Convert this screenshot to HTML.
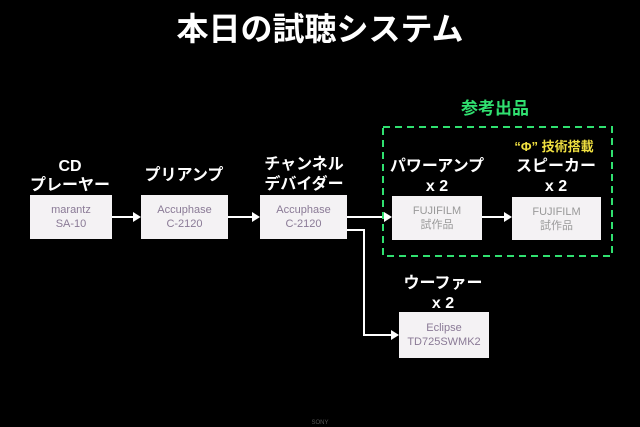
<!DOCTYPE html>
<html><head><meta charset="utf-8"><style>
body{margin:0;width:640px;height:427px;background:#000;overflow:hidden;position:relative;font-family:"Liberation Sans","Noto Sans CJK JP",sans-serif;}
.t{position:absolute;color:#fff;font-weight:bold;text-align:center;white-space:nowrap;}
.b{position:absolute;background:#f4f2f4;color:#8a7a96;text-align:center;font-size:11px;line-height:14px;display:flex;flex-direction:column;justify-content:center;}
</style></head><body>
<div class="t" style="left:0;width:640px;top:10px;font-size:32px;line-height:38px;">本日の試聴システム</div>
<div class="t" style="left:20px;width:100px;top:157px;font-size:16px;line-height:19px;">CD<br>プレーヤー</div>
<div class="t" style="left:134px;width:100px;top:166px;font-size:16px;line-height:19px;">プリアンプ</div>
<div class="t" style="left:254px;width:100px;top:155px;font-size:16px;line-height:20px;">チャンネル<br>デバイダー</div>
<div class="t" style="left:384px;width:106px;top:157px;font-size:16px;line-height:20px;">パワーアンプ<br>x 2</div>
<div class="t" style="left:500px;width:112px;top:157px;font-size:16px;line-height:20px;">スピーカー<br>x 2</div>
<div class="t" style="left:498px;width:112px;top:139px;font-size:13px;line-height:16px;color:#f0e040;">“Φ” 技術搭載</div>
<div class="t" style="left:390px;width:106px;top:274px;font-size:16px;line-height:20px;">ウーファー<br>x 2</div>
<div class="t" style="left:440px;width:110px;top:94px;font-size:17px;color:#30e070;">参考出品</div>
<div class="b" style="left:30px;top:195px;width:82px;height:44px;"><span>marantz</span><span>SA-10</span></div>
<div class="b" style="left:141px;top:195px;width:87px;height:44px;"><span>Accuphase</span><span>C-2120</span></div>
<div class="b" style="left:260px;top:195px;width:87px;height:44px;"><span>Accuphase</span><span>C-2120</span></div>
<div class="b" style="left:392px;top:196px;width:90px;height:44px;color:#999;"><span>FUJIFILM</span><span>試作品</span></div>
<div class="b" style="left:512px;top:197px;width:89px;height:43px;color:#999;"><span>FUJIFILM</span><span>試作品</span></div>
<div class="b" style="left:399px;top:312px;width:90px;height:46px;"><span>Eclipse</span><span>TD725SWMK2</span></div>
<svg width="640" height="427" style="position:absolute;left:0;top:0">
<g stroke="#fff" stroke-width="2" fill="none">
<line x1="112" y1="217" x2="136" y2="217"/>
<line x1="228" y1="217" x2="255" y2="217"/>
<line x1="347" y1="217" x2="387" y2="217"/>
<line x1="482" y1="217" x2="507" y2="217"/>
<polyline points="347,230 364,230 364,335 394,335"/>
</g>
<g fill="#fff">
<polygon points="141,217 133,212 133,222"/>
<polygon points="260,217 252,212 252,222"/>
<polygon points="392,217 384,212 384,222"/>
<polygon points="512,217 504,212 504,222"/>
<polygon points="399,335 391,330 391,340"/>
</g>
<rect x="383" y="127" width="229" height="129" fill="none" stroke="#30e070" stroke-width="2" stroke-dasharray="7,5"/>
<text x="320" y="424" fill="#555" font-size="6" text-anchor="middle" font-family="Liberation Sans">SONY</text>
</svg>
</body></html>
